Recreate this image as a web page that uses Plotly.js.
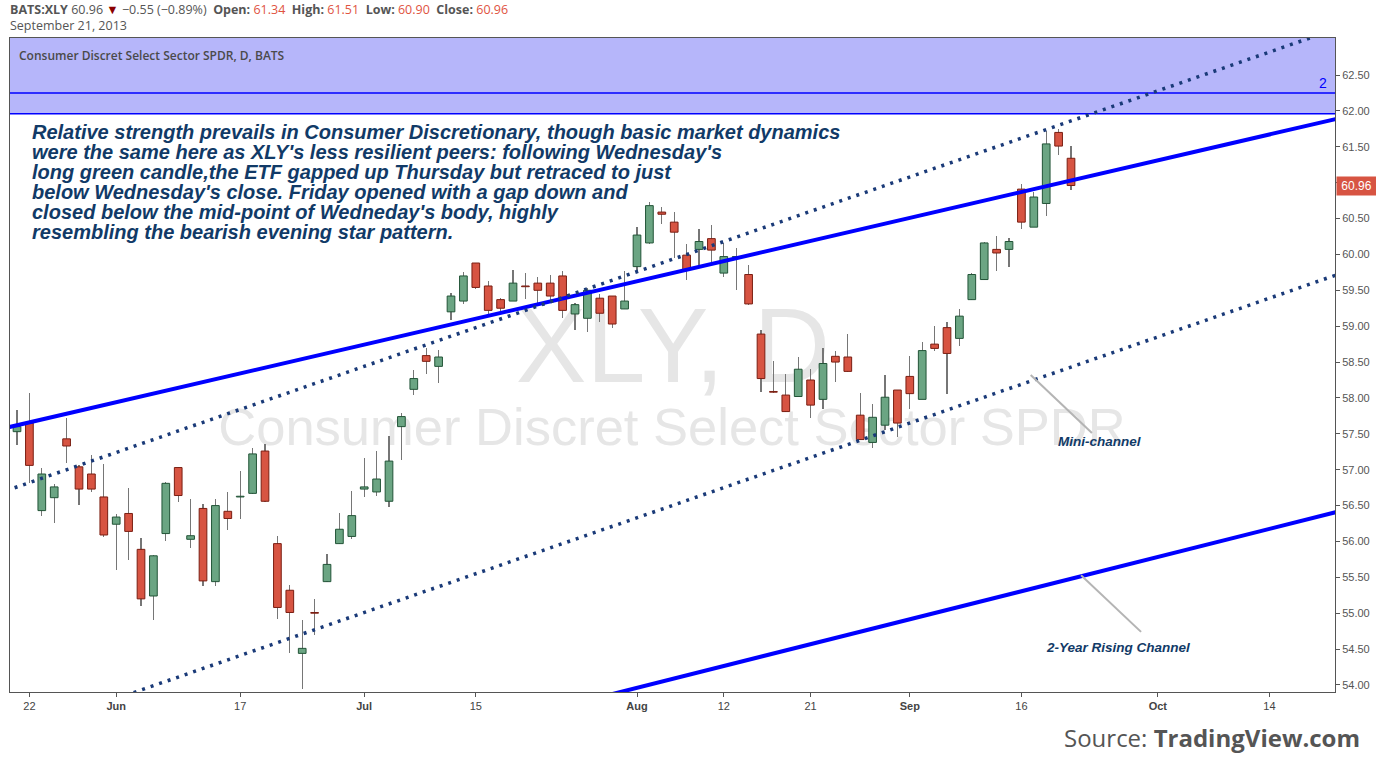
<!DOCTYPE html>
<html>
<head>
<meta charset="utf-8">
<script src="https://cdn.plot.ly/plotly-3.0.1.min.js"></script>
<style>
html,body{margin:0;padding:0;background:#ffffff;}
#chart{width:1376px;height:764px;}
</style>
</head>
<body>
<div id="chart"></div>
<script>
// ---------------- DATA ----------------
const dates = [
 '2013-05-21','2013-05-22','2013-05-23','2013-05-24','2013-05-28','2013-05-29','2013-05-30','2013-05-31',
 '2013-06-03','2013-06-04','2013-06-05','2013-06-06','2013-06-07','2013-06-10','2013-06-11','2013-06-12','2013-06-13','2013-06-14',
 '2013-06-17','2013-06-18','2013-06-19','2013-06-20','2013-06-21','2013-06-24','2013-06-25','2013-06-26','2013-06-27','2013-06-28',
 '2013-07-01','2013-07-02','2013-07-03','2013-07-05','2013-07-08','2013-07-09','2013-07-10','2013-07-11','2013-07-12',
 '2013-07-15','2013-07-16','2013-07-17','2013-07-18','2013-07-19','2013-07-22','2013-07-23','2013-07-24','2013-07-25','2013-07-26',
 '2013-07-29','2013-07-30','2013-07-31',
 '2013-08-01','2013-08-02','2013-08-05','2013-08-06','2013-08-07','2013-08-08','2013-08-09','2013-08-12','2013-08-13','2013-08-14',
 '2013-08-15','2013-08-16','2013-08-19','2013-08-20','2013-08-21','2013-08-22','2013-08-23','2013-08-26','2013-08-27','2013-08-28',
 '2013-08-29','2013-08-30',
 '2013-09-03','2013-09-04','2013-09-05','2013-09-06','2013-09-09','2013-09-10','2013-09-11','2013-09-12','2013-09-13',
 '2013-09-16','2013-09-17','2013-09-18','2013-09-19','2013-09-20'
];
const openP = [
 57.53,57.65,56.43,56.61,57.43,57.04,56.94,56.62,
 56.24,56.39,55.89,55.24,56.11,57.03,56.03,56.46,55.44,56.42,
 56.62,56.67,57.26,55.97,55.32,54.44,55.01,55.44,55.97,56.07,
 56.73,56.69,56.56,57.60,58.12,58.59,58.44,59.20,59.35,
 59.88,59.56,59.37,59.35,59.56,59.60,59.60,59.70,59.17,59.11,
 59.39,59.42,59.24,
 59.83,60.16,60.59,60.45,59.99,60.07,60.22,59.74,59.96,59.72,
 58.89,58.09,58.04,58.02,58.25,57.98,58.58,58.57,57.76,57.38,
 57.62,58.11,
 58.30,57.98,58.75,58.98,58.83,59.37,59.65,60.07,60.07,
 60.91,60.38,60.71,61.70,61.34
];
const highP = [
 57.83,58.07,57.03,56.80,57.72,57.06,57.21,57.08,
 56.38,56.75,56.05,55.81,56.83,57.04,56.59,56.52,56.59,56.69,
 56.98,57.30,57.36,56.07,55.39,54.91,55.20,55.83,56.40,56.70,
 57.16,57.26,57.47,57.79,58.39,58.70,58.67,59.46,59.75,
 59.88,59.63,59.39,59.78,59.74,59.68,59.71,59.77,59.32,59.53,
 59.45,59.42,59.77,
 60.38,60.73,60.66,60.59,60.14,60.35,60.41,60.16,60.09,59.85,
 58.94,58.52,58.33,58.57,58.40,58.69,58.66,58.89,58.07,57.91,
 58.32,58.11,
 58.58,58.78,59.00,59.06,59.24,59.74,60.17,60.26,60.23,
 60.98,60.87,61.72,61.75,61.51
];
const lowP = [
 57.34,56.81,56.36,56.26,57.09,56.51,56.69,56.06,
 55.60,55.74,55.10,54.90,56.01,56.55,55.91,55.38,55.38,56.16,
 56.31,56.66,56.55,54.92,54.45,53.94,54.70,55.43,55.96,56.03,
 56.62,56.64,56.48,57.13,58.04,58.34,58.21,59.08,59.31,
 59.52,59.16,59.19,59.35,59.38,59.32,59.37,59.11,58.94,58.92,
 59.06,58.97,59.24,
 59.77,60.14,60.43,59.95,59.64,59.85,59.90,59.68,59.51,59.29,
 58.08,58.07,57.81,58.02,57.72,57.84,58.22,58.36,57.42,57.30,
 57.55,57.46,
 57.84,57.98,58.65,58.05,58.73,59.37,59.65,59.77,59.82,
 60.36,60.38,60.53,61.38,60.90
];
const closeP = [
 57.60,57.06,56.94,56.76,57.33,56.73,56.73,56.09,
 56.34,56.14,55.20,55.80,56.81,56.64,56.08,55.45,56.50,56.32,
 56.63,57.22,56.56,55.08,55.01,54.51,55.00,55.68,56.17,56.36,
 56.76,56.87,57.12,57.74,58.27,58.51,58.57,59.42,59.70,
 59.54,59.22,59.25,59.60,59.55,59.50,59.42,59.22,59.30,59.50,
 59.18,59.03,59.35,
 60.27,60.68,60.56,60.31,59.79,60.18,60.06,59.97,59.97,59.31,
 58.27,58.08,57.81,58.40,57.90,58.48,58.50,58.37,57.42,57.73,
 58.01,57.65,
 58.06,58.66,58.69,58.62,59.14,59.72,60.16,60.02,60.18,
 60.45,60.80,61.54,61.51,60.96
];
const holidays = ['2013-05-27','2013-07-04','2013-09-02'];
const tickDates  = ['2013-05-22','2013-06-03','2013-06-17','2013-07-01','2013-07-15','2013-08-01','2013-08-12','2013-08-21','2013-09-03','2013-09-16','2013-10-01','2013-10-14'];
const tickLabels = ['22','<b>Jun</b>','17','<b>Jul</b>','15','<b>Aug</b>','12','21','<b>Sep</b>','16','<b>Oct</b>','14'];
const priceTicks = [54,54.5,55,55.5,56,56.5,57,57.5,58,58.5,59,59.5,60,60.5,61,61.5,62,62.5];

// drawn trend lines: two [date, price] anchors each
const channelUpper = [['2013-05-21',57.62],['2013-09-20',61.03]];
const channelLower = [['2013-08-01',53.96],['2013-09-20',55.48]];
const miniUpper    = [['2013-05-21',56.76],['2013-09-20',61.86]];
const miniLower    = [['2013-05-21',53.33],['2013-09-20',58.43]];
const bandBottom = 61.96;
const level2 = 62.25;
const lastPrice = 60.96;

// ---------------- HELPERS ----------------
const DAY = 86400000;
const START = Date.UTC(2013,4,21);
function tIdx(s){
  const p = s.split('-').map(Number);
  const target = Date.UTC(p[0],p[1]-1,p[2]);
  let n = 0;
  for(let t=START; t<target; t+=DAY){
    const d = new Date(t); const wd = d.getUTCDay();
    if(wd!==0 && wd!==6 && holidays.indexOf(d.toISOString().slice(0,10))<0) n++;
  }
  return n;
}
const xRange = [-0.565, 106.29];
const yRange = [53.902, 63.016];
function extLine(anchors, style){
  const x1=tIdx(anchors[0][0]), y1=anchors[0][1], x2=tIdx(anchors[1][0]), y2=anchors[1][1];
  const k=(y2-y1)/(x2-x1);
  const xa=xRange[0]-1, xb=xRange[1]+1;
  return {type:'line', xref:'x', yref:'y', layer:'above', x0:xa, y0:y1+k*(xa-x1), x1:xb, y1:y1+k*(xb-x1), line:style};
}
const PX = px => (px-10)/1325;   // pixel -> paper x
const PY = py => (692-py)/654;    // pixel -> paper y

const xs = dates.map(tIdx);
const up = closeP.map((c,i)=>c>=openP[i]);
const bodyBase = openP.map((o,i)=>Math.min(o,closeP[i]));
const bodyLen = openP.map((o,i)=>Math.max(Math.abs(closeP[i]-o),0.006));

const GREEN='#6ba583', GREEN_L='#225437', RED='#d75442', RED_L='#7a1e12';

const wicks = {
  type:'bar', x:xs, base:lowP, y:highP.map((h,i)=>h-lowP[i]), width:0.085,
  marker:{color:'#767676', line:{width:0}}, hoverinfo:'skip', showlegend:false
};
const bodies = {
  type:'bar', x:xs, base:bodyBase, y:bodyLen, width:0.62,
  marker:{color:up.map(u=>u?GREEN:RED), line:{color:up.map(u=>u?GREEN_L:RED_L), width:1}},
  hoverinfo:'skip', showlegend:false
};

const NAVY='#113a67';
const commentary = [
 'Relative strength prevails in Consumer Discretionary, though basic market dynamics',
 "were the same here as XLY's less resilient peers: following Wednesday's",
 'long green candle,the ETF gapped up Thursday but retraced to just',
 "below Wednesday's close. Friday opened with a gap down and",
 "closed below the mid-point of Wedneday's body, highly",
 'resembling the bearish evening star pattern.'
];

const shapes = [
  {type:'rect', layer:'below', xref:'x', yref:'y', x0:xRange[0]-2, x1:xRange[1]+2, y0:bandBottom, y1:yRange[1]+1, fillcolor:'#b6b6fa', line:{width:0}},
  {type:'line', xref:'x', yref:'y', x0:xRange[0]-2, x1:xRange[1]+2, y0:bandBottom, y1:bandBottom, line:{color:'#0000ff', width:1.5}},
  {type:'line', xref:'x', yref:'y', x0:xRange[0]-2, x1:xRange[1]+2, y0:level2, y1:level2, line:{color:'#0000ff', width:1.5}},
  {type:'rect', layer:'below', xref:'paper', yref:'paper', x0:PX(673)-0.2, x1:PX(673)+0.2, y0:PY(335)-0.06, y1:PY(335)+0.06,
    fillcolor:'rgba(0,0,0,0)', line:{width:0},
    label:{text:'XLY, D', textposition:'middle center', font:{family:'Liberation Sans, Arial, sans-serif', size:106, color:'#e6e6e6'}}},
  {type:'rect', layer:'below', xref:'paper', yref:'paper', x0:PX(672)-0.4, x1:PX(672)+0.4, y0:PY(422)-0.04, y1:PY(422)+0.04,
    fillcolor:'rgba(0,0,0,0)', line:{width:0},
    label:{text:'Consumer Discret Select Sector SPDR', textposition:'middle center', font:{family:'Liberation Sans, Arial, sans-serif', size:52.5, color:'#e6e6e6'}}},
  extLine(channelUpper, {color:'#0000ff', width:4}),
  extLine(channelLower, {color:'#0000ff', width:4}),
  extLine(miniUpper, {color:'#1a3a78', width:3.5, dash:'3px,6px'}),
  extLine(miniLower, {color:'#1a3a78', width:3.5, dash:'3px,6px'}),
  {type:'line', xref:'x', yref:'y', x0:81.75, y0:58.32, x1:86.69, y1:57.51, line:{color:'#b4b4b4', width:2}},
  {type:'line', xref:'x', yref:'y', x0:85.81, y0:55.53, x1:90.65, y1:54.74, line:{color:'#b4b4b4', width:2}}
];

const SANS='Liberation Sans, Arial, sans-serif';
const OPEN='Open Sans, sans-serif';
const annotations = [];
commentary.forEach((t,i)=>{
  annotations.push({xref:'paper', yref:'paper', x:PX(30), y:PY(132+20*i), xanchor:'left', yanchor:'middle', showarrow:false,
    text:'<b><i>'+t+'</i></b>', font:{family:SANS, size:20, color:NAVY}});
});
annotations.push(
  {xref:'paper', yref:'paper', x:PX(1099), y:PY(441), xanchor:'center', yanchor:'middle', showarrow:false,
   text:'<b><i>Mini-channel</i></b>', font:{family:SANS, size:13.5, color:NAVY}},
  {xref:'paper', yref:'paper', x:PX(1118), y:PY(647), xanchor:'center', yanchor:'middle', showarrow:false,
   text:'<b><i>2-Year Rising Channel</i></b>', font:{family:SANS, size:13.5, color:NAVY}},
  {xref:'paper', yref:'y', x:PX(1323), y:level2, xanchor:'center', yanchor:'bottom', showarrow:false,
   text:'2', font:{family:SANS, size:14, color:'#0000ff'}},
  {xref:'paper', yref:'y', x:PX(1336), y:lastPrice, xanchor:'left', yanchor:'middle', showarrow:false,
   text:lastPrice.toFixed(2), bgcolor:'#d75442', borderpad:2, width:35, height:14,
   font:{family:SANS, size:12, color:'#ffffff'}},
  {xref:'paper', yref:'paper', x:PX(17), y:PY(55), xanchor:'left', yanchor:'middle', showarrow:false,
   text:'Consumer Discret Select Sector SPDR, D, BATS', font:{family:OPEN, size:12, color:'#4a4a4a', weight:600}},
  {xref:'paper', yref:'paper', x:PX(8), y:PY(9.5), xanchor:'left', yanchor:'middle', showarrow:false,
   text:'<b>BATS:XLY</b> 60.96 <span style="color:#8b0000">▼</span> −0.55 (−0.89%)&nbsp;&nbsp;<b>Open:</b> <span style="color:#e0533f">61.34</span>&nbsp;&nbsp;<b>High:</b> <span style="color:#e0533f">61.51</span>&nbsp;&nbsp;<b>Low:</b> <span style="color:#e0533f">60.90</span>&nbsp;&nbsp;<b>Close:</b> <span style="color:#e0533f">60.96</span>',
   font:{family:OPEN, size:12.5, color:'#555555'}},
  {xref:'paper', yref:'paper', x:PX(8), y:PY(25.5), xanchor:'left', yanchor:'middle', showarrow:false,
   text:'September 21, 2013', font:{family:OPEN, size:12.5, color:'#555555'}},
  {xref:'paper', yref:'paper', x:PX(1362), y:PY(737), xanchor:'right', yanchor:'middle', showarrow:false,
   text:'Source: <b>TradingView.com</b>', font:{family:OPEN, size:24, color:'#555555'}}
);

const layout = {
  width:1376, height:764,
  margin:{l:10, r:41, t:38, b:72, pad:0},
  paper_bgcolor:'#ffffff', plot_bgcolor:'rgba(0,0,0,0)',
  barmode:'overlay', bargap:0, showlegend:false, hovermode:false,
  xaxis:{range:xRange, tickvals:tickDates.map(tIdx), ticktext:tickLabels, showgrid:false, zeroline:false,
    showline:true, mirror:true, linecolor:'#555555', linewidth:1, ticks:'outside', ticklen:4, tickcolor:'#555555',
    tickfont:{family:SANS, size:11, color:'#444444'}, fixedrange:true},
  yaxis:{range:yRange, side:'right', tickvals:priceTicks, tickformat:'.2f', showgrid:false, zeroline:false,
    showline:true, mirror:true, linecolor:'#555555', linewidth:1, ticks:'outside', ticklen:4, tickcolor:'#555555',
    tickfont:{family:SANS, size:11, color:'#555555'}, fixedrange:true},
  shapes:shapes,
  annotations:annotations
};

Plotly.newPlot('chart', [wicks, bodies], layout, {displayModeBar:false, staticPlot:true});
</script>
</body>
</html>
